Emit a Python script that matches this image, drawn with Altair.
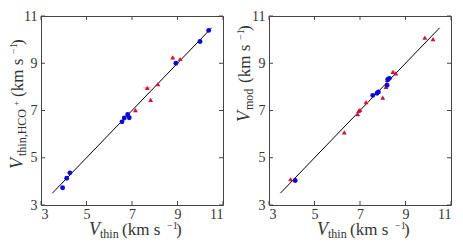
import altair as alt
import pandas as pd

# ---------------- data ----------------
ticks = [3, 5, 7, 9, 11]
line_ends = [3.5, 10.5]

left_blue_x = [3.95, 4.13, 4.27, 6.56, 6.66, 6.81, 6.88, 8.93, 9.99, 10.37]
left_blue_y = [3.73, 4.13, 4.36, 6.52, 6.68, 6.83, 6.69, 9.00, 9.92, 10.39]
left_red_x = [8.79, 9.12, 7.67, 8.14, 7.82, 7.15]
left_red_y = [9.25, 9.18, 7.96, 8.12, 7.45, 7.02]
left_red_xerr = [0.08, 0.08, 0.17, 0.06, 0.06, 0.08]

right_blue_x = [4.15, 7.56, 7.75, 7.81, 8.19, 8.22, 8.29]
right_blue_y = [4.04, 7.64, 7.73, 7.78, 8.07, 8.31, 8.36]
right_red_x = [3.95, 4.15, 6.31, 6.90, 6.94, 7.00, 7.27, 8.00, 8.14, 8.20, 8.45, 8.57, 9.85, 10.21]
right_red_y = [4.09, 4.10, 6.07, 6.85, 6.98, 7.03, 7.35, 7.55, 8.00, 8.30, 8.64, 8.57, 10.08, 10.02]
right_red_xerr = [0.06, 0.06, 0.05, 0.06, 0.06, 0.06, 0.10, 0.05, 0.05, 0.05, 0.08, 0.08, 0.05, 0.05]

W, H = 182, 189
FONT = "Liberation Serif"
TXT = "#333333"
BLUE = "#0a0ad8"
RED = "#c8163c"
PINK = "#f2a6b6"

xs = alt.Scale(domain=[3, 11], nice=False, zero=False)
ys = alt.Scale(domain=[3, 11], nice=False, zero=False)
one = pd.DataFrame({"k": [0]})


def panel(bx, by, rx, ry, rerr, ylabel_pieces):
    blue = pd.DataFrame({"x": bx, "y": by})
    red = pd.DataFrame({"x": rx, "y": ry, "lo": [a - e for a, e in zip(rx, rerr)],
                        "hi": [a + e for a, e in zip(rx, rerr)]})
    line = pd.DataFrame({"x": line_ends, "y": line_ends})
    tk = pd.DataFrame({"t": ticks})

    base_axes = alt.Chart(tk).mark_rule(opacity=0).encode(
        x=alt.X("t:Q", scale=xs, axis=alt.Axis(values=ticks, tickSize=0, domain=False, grid=False,
                                               labelFont=FONT, labelFontSize=14, labelColor=TXT,
                                               labelPadding=2, title=None, format="d")),
        y=alt.Y("t:Q", scale=ys, axis=alt.Axis(values=ticks, tickSize=0, domain=False, grid=False,
                                               labelFont=FONT, labelFontSize=14, labelColor=TXT,
                                               labelPadding=4, title=None, format="d")),
    )
    tb = alt.Chart(tk).mark_rule(color="#444", strokeWidth=1).encode(
        x=alt.X("t:Q", scale=xs), y=alt.value(H), y2=alt.value(H - 4))
    tt = alt.Chart(tk).mark_rule(color="#444", strokeWidth=1).encode(
        x=alt.X("t:Q", scale=xs), y=alt.value(0), y2=alt.value(4))
    tl = alt.Chart(tk).mark_rule(color="#444", strokeWidth=1).encode(
        y=alt.Y("t:Q", scale=ys), x=alt.value(0), x2=alt.value(4))
    tr = alt.Chart(tk).mark_rule(color="#444", strokeWidth=1).encode(
        y=alt.Y("t:Q", scale=ys), x=alt.value(W), x2=alt.value(W - 4))

    diag = alt.Chart(line).mark_line(color="black", strokeWidth=1).encode(
        x=alt.X("x:Q", scale=xs), y=alt.Y("y:Q", scale=ys))
    err = alt.Chart(red).mark_rule(color=PINK, strokeWidth=1.2).encode(
        x=alt.X("lo:Q", scale=xs), x2="hi:Q", y=alt.Y("y:Q", scale=ys))
    tri = alt.Chart(red).mark_point(shape="triangle-up", filled=True, size=24, color=RED, opacity=1).encode(
        x=alt.X("x:Q", scale=xs), y=alt.Y("y:Q", scale=ys))
    circ = alt.Chart(blue).mark_circle(size=24, color=BLUE, opacity=1).encode(
        x=alt.X("x:Q", scale=xs), y=alt.Y("y:Q", scale=ys))

    texts = []
    xb = H + 30
    xpieces = [("V", 48, xb, 18, True), ("thin", 59, xb + 3, 12, False),
               ("(km s", 81, xb, 17, False), ("\u22121", 126, xb - 6, 10, False), (")", 135, xb, 17, False)]
    for t, dx, dy, sz, it in xpieces:
        texts.append(alt.Chart(one).mark_text(align="left", baseline="alphabetic", font=FONT, fontSize=sz,
                                              fontStyle="italic" if it else "normal", color=TXT).encode(
            x=alt.value(dx), y=alt.value(dy), text=alt.value(t)))
    for t, dx, dy, sz, it in ylabel_pieces:
        texts.append(alt.Chart(one).mark_text(align="left", baseline="alphabetic", font=FONT, fontSize=sz,
                                              angle=270, fontStyle="italic" if it else "normal", color=TXT).encode(
            x=alt.value(dx), y=alt.value(dy), text=alt.value(t)))

    return alt.layer(base_axes, diag, err, tri, circ, tb, tt, tl, tr, *texts).properties(width=W, height=H)


left_y = [("V", -18, 153, 18, True), ("thin,HCO", -15, 140, 12, False), ("+", -22, 90, 9, False),
          ("(km s", -18, 81, 17, False), ("\u22121", -24, 38, 10, False), (")", -18, 29, 17, False)]
right_y = [("V", -19, 106, 18, True), ("mod", -16, 94, 12, False),
           ("(km s", -19, 67, 17, False), ("\u22121", -25, 24, 10, False), (")", -19, 15, 17, False)]

left = panel(left_blue_x, left_blue_y, left_red_x, left_red_y, left_red_xerr, left_y)
right = panel(right_blue_x, right_blue_y, right_red_x, right_red_y, right_red_xerr, right_y)

chart = alt.hconcat(left, right, spacing=46, bounds="flush").properties(
    padding={"left": 0, "top": 0, "right": 0, "bottom": 0}
).configure_view(stroke="#444", strokeWidth=1)

chart.save("out.html", embed_options={"renderer": "svg", "actions": False})
